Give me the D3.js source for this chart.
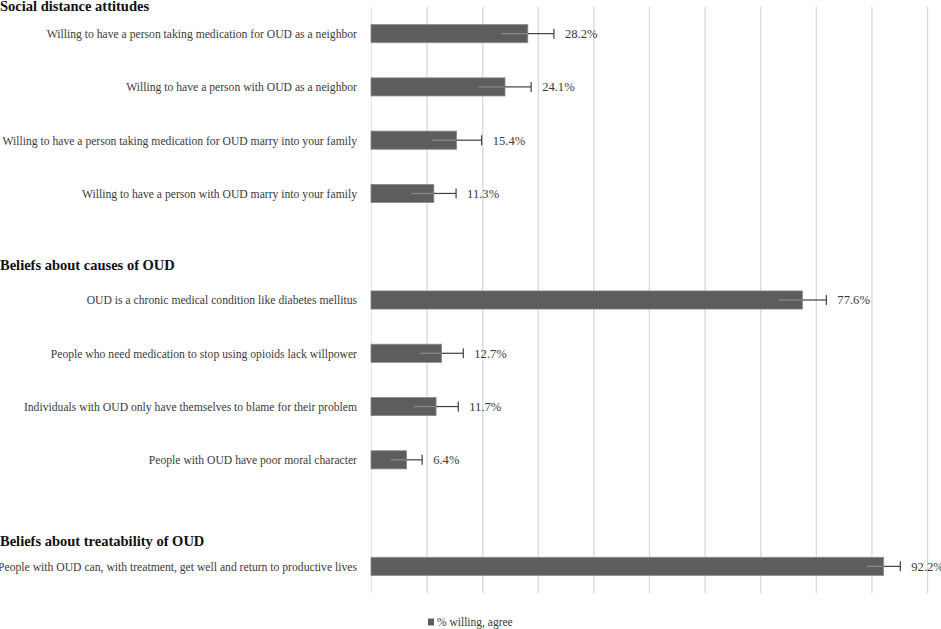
<!DOCTYPE html>
<html><head><meta charset="utf-8">
<script src="https://cdn.jsdelivr.net/npm/d3@7"></script>
<style>body{margin:0;background:#fff}svg{display:block}text{font-family:"Liberation Serif","Times New Roman",serif;fill:#3a3a3a}</style>
</head><body><svg id="c" width="941" height="629"></svg>
<script>
const sections = ["Social distance attitudes","Beliefs about causes of OUD","Beliefs about treatability of OUD"];
const categories = [
 "Willing to have a person taking medication for OUD as a neighbor",
 "Willing to have a person with OUD as a neighbor",
 "Willing to have a person taking medication for OUD marry into your family",
 "Willing to have a person with OUD marry into your family",
 "OUD is a chronic medical condition like diabetes mellitus",
 "People who need medication to stop using opioids lack willpower",
 "Individuals with OUD only have themselves to blame for their problem",
 "People with OUD have poor moral character",
 "People with OUD can, with treatment, get well and return to productive lives"];
const sectionOf = [0,0,0,0,1,1,1,1,2];
const values = [28.2,24.1,15.4,11.3,77.6,12.7,11.7,6.4,92.2];
const errors = [4.7,4.7,4.5,4.0,4.3,3.9,4.0,2.8,3.0];
const xTicks = [0,10,20,30,40,50,60,70,80,90,100];
const legendLabel = "% willing, agree";

const svg = d3.select("#c");
const pLeft = 371, pRight = 927, pTop = 7, pBottom = 593;

const rows = [];
categories.forEach((c,i)=>{
  if(i>0 && sectionOf[i]!==sectionOf[i-1]) rows.push("gap"+i);
  rows.push("c"+i);
});
const x = d3.scaleLinear().domain([0,100]).range([pLeft,pRight]);
const y = d3.scaleBand().domain(rows).range([pTop,pBottom]).paddingInner(0.66).paddingOuter(0.33);

svg.append("g").selectAll("line").data(xTicks).join("line")
  .attr("x1",d=>x(d)+0.5).attr("x2",d=>x(d)+0.5)
  .attr("y1",pTop).attr("y2",pBottom)
  .attr("stroke",(d,i)=>i===0?"#e6e6e6":"#d9d9d9").attr("stroke-width",1.3);

const data = categories.map((c,i)=>({c,i,v:values[i],e:errors[i],key:"c"+i}));
const cy = d=>y(d.key)+y.bandwidth()/2;

svg.append("g").selectAll("text").data(data).join("text")
  .attr("transform",d=>`translate(357,${cy(d)}) scale(0.925,1)`)
  .attr("dy","0.35em").attr("text-anchor","end")
  .style("font-size","12.6px").text(d=>d.c);

const firstIdx = sections.map((s,k)=>sectionOf.indexOf(k));
const headerOff = [28,35,25];
svg.append("g").selectAll("text").data(sections).join("text")
  .attr("x",0).attr("y",(s,k)=>y("c"+firstIdx[k])+y.bandwidth()/2-headerOff[k])
  .attr("dy","0.35em")
  .style("font-size","14.5px").style("font-weight","bold").style("fill","#111")
  .text(s=>s);

svg.append("g").selectAll("rect").data(data).join("rect")
  .attr("x",x(0)).attr("y",d=>y(d.key))
  .attr("width",d=>x(d.v)-x(0)).attr("height",y.bandwidth())
  .attr("fill","#5d5d5d").attr("stroke","#8a8a8a").attr("stroke-width",0.8);

const eg = svg.append("g");
eg.selectAll("line.in").data(data).join("line").attr("class","in")
  .attr("x1",d=>x(d.v-d.e)).attr("x2",d=>x(d.v))
  .attr("y1",cy).attr("y2",cy)
  .attr("stroke","#8c8c8c").attr("stroke-width",1.2);
eg.selectAll("line.out").data(data).join("line").attr("class","out")
  .attr("x1",d=>x(d.v)).attr("x2",d=>x(d.v+d.e))
  .attr("y1",cy).attr("y2",cy)
  .attr("stroke","#404040").attr("stroke-width",1.2);
eg.selectAll("line.cap").data(data).join("line").attr("class","cap")
  .attr("x1",d=>x(d.v+d.e)).attr("x2",d=>x(d.v+d.e))
  .attr("y1",d=>cy(d)-5).attr("y2",d=>cy(d)+5)
  .attr("stroke","#404040").attr("stroke-width",1.2);

svg.append("g").selectAll("text").data(data).join("text")
  .attr("x",d=>x(d.v+d.e)+11).attr("y",cy)
  .attr("dy","0.35em").style("font-size","12.6px")
  .text(d=>d.v.toFixed(1)+"%");

const lg = svg.append("g").attr("transform","translate(428,622)");
lg.append("rect").attr("x",0).attr("y",-3.5).attr("width",6).attr("height",7).attr("fill","#5d5d5d");
lg.append("text").attr("x",9).attr("y",0).attr("dy","0.35em").style("font-size","11.5px").text(legendLabel);
</script></body></html>
